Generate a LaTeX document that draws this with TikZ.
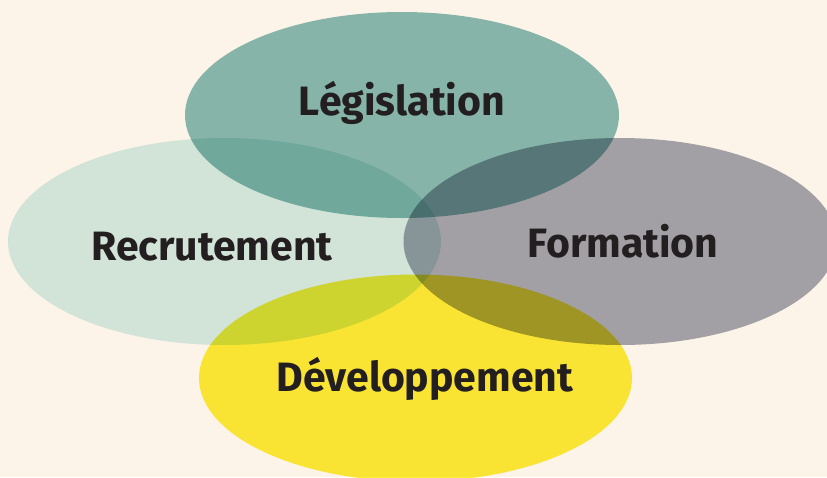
\documentclass[tikz,border=0pt]{standalone}
\usepackage{fontspec}
\setmainfont{Fira Sans}
\usepackage{tikz}
\definecolor{fondcreme}{RGB}{253,244,233}
\definecolor{legis}{RGB}{136,189,186}
\definecolor{recrut}{RGB}{212,238,236}
\definecolor{forma}{RGB}{164,168,181}
\definecolor{devel}{RGB}{251,239,56}
\definecolor{encre}{RGB}{35,31,32}
\tikzset{etiquette/.style={font=\fontsize{41}{45}\selectfont\bfseries,text=encre,inner sep=0pt}}

\begin{document}
\begin{tikzpicture}[x=1pt,y=-1pt]
            \useasboundingbox (0,0) rectangle (827,477);
            \fill[fondcreme] (0,0) rectangle (827,477);
            \clip (0,0) rectangle (827,477);
            \begin{scope}[blend mode=multiply]
                \fill[recrut] (224.5,241.5) ellipse [x radius=216.5, y radius=103.5];
                \fill[legis] (402,115) ellipse [x radius=217, y radius=103];
                \fill[forma] (620,241.5) ellipse [x radius=216.5, y radius=103.5];
                \fill[devel] (415.5,378) ellipse [x radius=216.5, y radius=103.5];
            \end{scope}
            \node[etiquette] (legislation) at (402,103) {Législation};
            \node[etiquette] (recrutement) at (212,247) {Recrutement};
            \node[etiquette] (formation) at (623,241) {Formation};
            \node[etiquette] (developpement) at (425,379) {Développement};
        \end{tikzpicture}
\end{document}
